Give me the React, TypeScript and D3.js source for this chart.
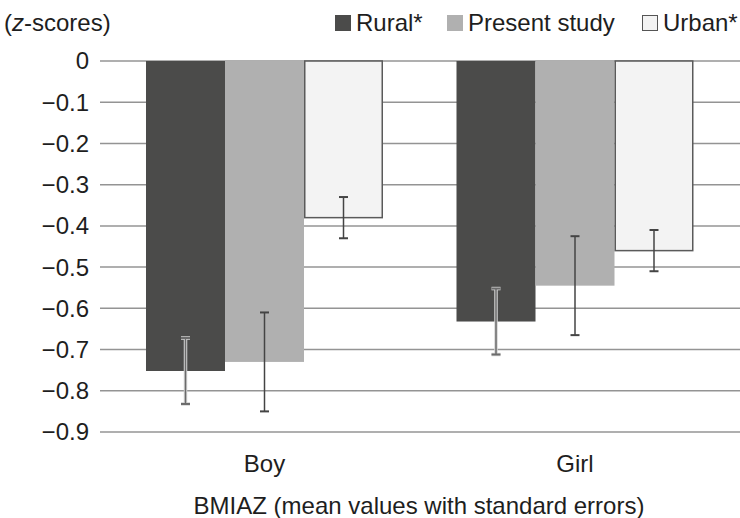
import React from "react";
import * as d3 from "d3";

const categories = ["Boy", "Girl"];
const seriesNames = ["Rural*", "Present study", "Urban*"];
const ruralValues = [-0.752, -0.632];
const presentValues = [-0.73, -0.545];
const urbanValues = [-0.38, -0.46];
const ruralErrors = [0.08, 0.08];
const presentErrors = [0.12, 0.12];
const urbanErrors = [0.05, 0.05];
const yTicks = [0, -0.1, -0.2, -0.3, -0.4, -0.5, -0.6, -0.7, -0.8, -0.9];

const W = 740;
const H = 518;
const FONT = "'Liberation Sans', Arial, Helvetica, sans-serif";
const TEXT = "#1e1e1e";

const fills = ["#4b4b4a", "#b0b0b0", "#f3f3f3"];

export default function App() {
  const y = d3.scaleLinear().domain([0, -0.9]).range([61, 432]);
  const x = d3
    .scaleBand<string>()
    .domain(categories)
    .range([109.25, 730.25])
    .paddingInner(0.2367)
    .paddingOuter(0.2367 / 2);
  const xs = d3
    .scaleBand<string>()
    .domain(seriesNames)
    .range([0, x.bandwidth()])
    .padding(0);

  const values = [ruralValues, presentValues, urbanValues];
  const errors = [ruralErrors, presentErrors, urbanErrors];

  const legendTextX = [356, 468, 663];

  const fmt = (t: number) => (t === 0 ? "0" : "\u2212" + Math.abs(t).toFixed(1));

  return (
    <svg
      width={W}
      height={H}
      viewBox={`0 0 ${W} ${H}`}
      style={{ position: "absolute", left: 0, top: 0, background: "#fff" }}
    >
      <rect x={0} y={0} width={W} height={H} fill="#fff" />
      {/* gridlines */}
      {yTicks.map((t) => (
        <line
          key={"g" + t}
          x1={100}
          x2={W}
          y1={y(t)}
          y2={y(t)}
          stroke="#949494"
          strokeWidth={1.5}
        />
      ))}
      {/* tick labels */}
      {yTicks.map((t) => (
        <text
          key={"t" + t}
          x={89}
          y={y(t)}
          dy="0.35em"
          textAnchor="end"
          fontFamily={FONT}
          fontSize={24}
          fill={TEXT}
        >
          {fmt(t)}
        </text>
      ))}
      {/* bars */}
      {categories.map((c, ci) =>
        seriesNames.map((s, si) => {
          const v = values[si][ci];
          const bx = (x(c) as number) + (xs(s) as number);
          const bw = xs.bandwidth();
          const isUrban = si === 2;
          return (
            <rect
              key={c + s}
              x={isUrban ? bx + 0.75 : bx}
              y={y(0)}
              width={isUrban ? bw - 1.5 : bw}
              height={y(v) - y(0)}
              fill={fills[si]}
              stroke={isUrban ? "#5a5a5a" : "none"}
              strokeWidth={isUrban ? 1.5 : 0}
            />
          );
        })
      )}
      {/* error bars */}
      {categories.map((c, ci) =>
        seriesNames.map((s, si) => {
          const v = values[si][ci];
          const e = errors[si][ci];
          const cx = (x(c) as number) + (xs(s) as number) + xs.bandwidth() / 2;
          const y1 = y(v + e);
          const y2 = y(v - e);
          const halo = si === 0;
          return (
            <g key={"e" + c + s}>
              {halo && (
                <g stroke="#d4d4d4" strokeWidth={3.5}>
                  <line x1={cx} x2={cx} y1={y1} y2={y2} />
                  <line x1={cx - 4.5} x2={cx + 4.5} y1={y1} y2={y1} />
                  <line x1={cx - 4.5} x2={cx + 4.5} y1={y2} y2={y2} />
                </g>
              )}
              <g stroke={halo ? "#6b6b6b" : "#444"} strokeWidth={1.5}>
                <line x1={cx} x2={cx} y1={y1} y2={y2} />
                <line x1={cx - 4.5} x2={cx + 4.5} y1={y1} y2={y1} strokeWidth={2} />
                <line x1={cx - 4.5} x2={cx + 4.5} y1={y2} y2={y2} strokeWidth={2} />
              </g>
            </g>
          );
        })
      )}
      {/* category labels */}
      {categories.map((c) => (
        <text
          key={"c" + c}
          x={(x(c) as number) + x.bandwidth() / 2}
          y={472}
          textAnchor="middle"
          fontFamily={FONT}
          fontSize={24}
          fill={TEXT}
        >
          {c}
        </text>
      ))}
      {/* axis title */}
      <text
        x={419}
        y={514}
        textAnchor="middle"
        fontFamily={FONT}
        fontSize={24}
        fill={TEXT}
      >
        BMIAZ (mean values with standard errors)
      </text>
      {/* y unit label */}
      <text x={4} y={31} fontFamily={FONT} fontSize={24} fill={TEXT}>
        (<tspan fontStyle="italic">z</tspan>-scores)
      </text>
      {/* legend */}
      {seriesNames.map((s, si) => (
        <g key={"l" + s}>
          <rect
            x={legendTextX[si] - 21 + (si === 2 ? 0.5 : 0)}
            y={15 + (si === 2 ? 0.5 : 0)}
            width={si === 2 ? 15 : 16}
            height={si === 2 ? 15 : 16}
            fill={fills[si]}
            stroke={si === 2 ? "#555" : "none"}
            strokeWidth={si === 2 ? 1 : 0}
          />
          <text
            x={legendTextX[si]}
            y={31}
            fontFamily={FONT}
            fontSize={24}
            fill={TEXT}
          >
            {s}
          </text>
        </g>
      ))}
    </svg>
  );
}
